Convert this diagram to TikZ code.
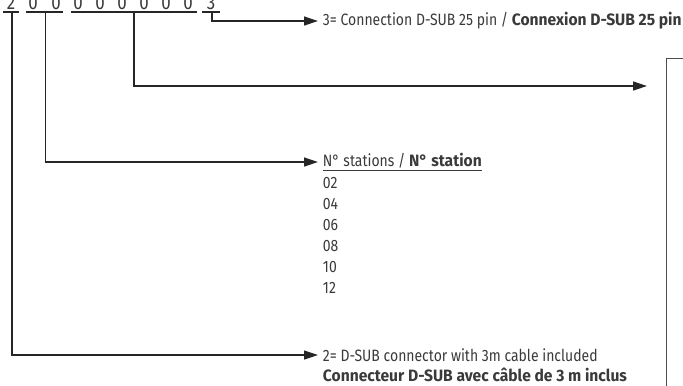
\documentclass[tikz,border=0pt]{standalone}
\usepackage{fontspec}
\setmainfont{Fira Sans}[FakeStretch=0.85,BoldFeatures={FakeStretch=0.95}]
\usepackage{tikz}
\usetikzlibrary{arrows.meta}

\definecolor{inkgray}{HTML}{3A3A3A}
\tikzset{
  codedigit/.style={anchor=base,inner sep=0pt,font=\fontsize{20}{20}\selectfont,text=inkgray},
  legendtext/.style={anchor=west,inner sep=0.75pt,font=\fontsize{16.5}{16.5}\selectfont,text=inkgray},
  codeline/.style={line width=1.2pt,draw=black!85},
  codearrow/.style={codeline,-{Triangle[length=14pt,width=9pt]},shorten >=4pt}
}

\begin{document}
\begin{tikzpicture}[x=1bp,y=1bp,yscale=-1,xscale=1]
\useasboundingbox (0,0) rectangle (683,385);
\clip (0,0) rectangle (683,385);

% Text Node
\node[codedigit] (d1) at (11,9.5) {2};
\node[codedigit] (d2) at (33,9.5) {0};
\node[codedigit] (d3) at (56,9.5) {0};
\node[codedigit] (d4) at (78,9.5) {0};
\node[codedigit] (d5) at (100,9.5) {0};
\node[codedigit] (d6) at (122,9.5) {0};
\node[codedigit] (d7) at (144,9.5) {0};
\node[codedigit] (d8) at (166,9.5) {0};
\node[codedigit] (d9) at (188,9.5) {0};
\node[codedigit] (d10) at (211,9.5) {3};

%Straight Lines: underlines of the code groups
\draw[codeline] (3,12) -- (19,12) ;
\draw[codeline] (26,12) -- (63,12) ;
\draw[codeline] (71,12) -- (197,12) ;
\draw[codeline] (202,12) -- (220,12) ;
\coordinate (ulconn) at (12,12);
\coordinate (ulstat) at (45.5,12);
\coordinate (ulmid) at (134,12);
\coordinate (ulpin) at (212,12);

% Text Node
\node[legendtext] (pin) at (322,21) {3= Connection D-SUB 25 pin / \textbf{Connexion D-SUB 25 pin}};
% Text Node
\node[legendtext] (stat) at (322,162) {\underline{N° stations / \textbf{N° station}}};
\node[legendtext] (s02) at (322,183) {02};
\node[legendtext] (s04) at (322,204) {04};
\node[legendtext] (s06) at (322,225) {06};
\node[legendtext] (s08) at (322,246) {08};
\node[legendtext] (s10) at (322,267) {10};
\node[legendtext] (s12) at (322,288) {12};
% Text Node
\node[legendtext] (conn) at (322,355) {2= D-SUB connector with 3m cable included};
\node[legendtext] (connfr) at (322,375) {\textbf{Connecteur D-SUB avec câble de 3 m inclus}};

%Shape: Rectangle, cut off at the right
\draw[line width=0.8pt,draw=black!70] (666,58) rectangle (700,400) ;
\coordinate (boxin) at (651,86);

%Arrows
\draw[codearrow] (ulpin) |- (pin.west) ;
\draw[codearrow] (ulmid) |- (boxin) ;
\draw[codearrow] (ulstat) |- (stat.west) ;
\draw[codearrow] (ulconn) |- (conn.west) ;
\end{tikzpicture}
\end{document}
